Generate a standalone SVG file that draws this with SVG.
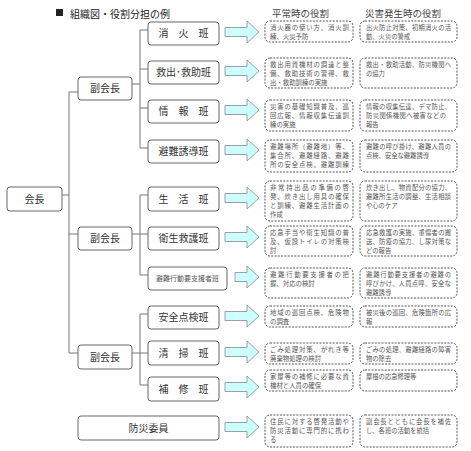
<svg xmlns="http://www.w3.org/2000/svg" xmlns:xlink="http://www.w3.org/1999/xlink" width="471" height="451" viewBox="0 0 471 451">
<style>
text{font-family:"Noto Sans CJK JP","Noto Sans",sans-serif}
.nb{fill:#fff;stroke:#666;stroke-width:1}
.nt{font-size:10px;fill:#333;text-anchor:middle}
.db{fill:#fff;stroke:#555;stroke-width:1;stroke-dasharray:2 1.3}
.tl{font-size:6.4px;fill:#555}
.tr{font-size:6.3px;fill:#555}
.ar{fill:#ccffff;stroke:#888;stroke-width:0.8}
.cn{fill:none;stroke:#777;stroke-width:1}
.hd{font-size:9.5px;fill:#444}
</style>
<defs>
<path id="arr" class="ar" d="M0,-4.5 H22 V-11 L34,0 L22,11 V4.5 H0 Z"/>
<path id="arrs" class="ar" d="M0,-4.5 H12 V-11 L24,0 L12,11 V4.5 H0 Z"/>
</defs>
<rect width="471" height="451" fill="#fff"/>
<g id="title">
<rect x="56" y="9" width="7" height="7" fill="#222"/>
<text x="70" y="17.5" style="font-size:10px;fill:#222">組織図・役割分担の例</text>
<text class="hd" x="272" y="17">平常時の役割</text>
<text class="hd" x="365" y="17">災害発生時の役割</text>
</g>
<g id="connectors">
<path class="cn" d="M62,195 H69 M69,92 V353 M69,92 H78 M69,234 H78 M69,353 H78"/>
<path class="cn" d="M132,84 H140 M140,30 V148 M140,30 H148 M140,69 H148 M140,108 H148 M140,148 H148"/>
<path class="cn" d="M132,234 H148 M140,195 V275 M140,195 H148 M140,275 H148"/>
<path class="cn" d="M132,353 H148 M140,314 V385 M140,314 H148 M140,385 H148"/>
</g>
<g id="arrows">
<use xlink:href="#arr" x="225" y="32"/>
<use xlink:href="#arr" x="225" y="71"/>
<use xlink:href="#arr" x="225" y="110"/>
<use xlink:href="#arr" x="225" y="150"/>
<use xlink:href="#arr" x="225" y="198"/>
<use xlink:href="#arr" x="225" y="237"/>
<use xlink:href="#arrs" x="235" y="277"/>
<use xlink:href="#arr" x="225" y="316"/>
<use xlink:href="#arr" x="225" y="352"/>
<use xlink:href="#arr" x="225" y="387"/>
<use xlink:href="#arr" x="225" y="427"/>
</g>
<g id="kaicho"><rect class="nb" x="7" y="187" width="55" height="24" rx="3"/><text class="nt" x="34.5" y="202.5">会長</text></g>
<g id="fuku1"><rect class="nb" x="78" y="77" width="54" height="23" rx="3"/><text class="nt" x="105" y="92">副会長</text></g>
<g id="fuku2"><rect class="nb" x="78" y="227" width="54" height="23" rx="3"/><text class="nt" x="105" y="242">副会長</text></g>
<g id="fuku3"><rect class="nb" x="78" y="345" width="54" height="24" rx="3"/><text class="nt" x="105" y="360.5">副会長</text></g>
<g id="shoka"><rect class="nb" x="148" y="22" width="71" height="23" rx="3"/><text class="nt" x="183.5" y="37">消　火　班</text></g>
<g id="kyushutsu"><rect class="nb" x="148" y="61" width="71" height="23" rx="3"/><text class="nt" x="183.5" y="76">救出･救助班</text></g>
<g id="joho"><rect class="nb" x="148" y="100" width="71" height="23" rx="3"/><text class="nt" x="183.5" y="115">情　報　班</text></g>
<g id="hinan"><rect class="nb" x="148" y="140" width="71" height="23" rx="3"/><text class="nt" x="183.5" y="155">避難誘導班</text></g>
<g id="seikatsu"><rect class="nb" x="148" y="187" width="71" height="24" rx="3"/><text class="nt" x="183.5" y="202.5">生　活　班</text></g>
<g id="eisei"><rect class="nb" x="148" y="227" width="71" height="23" rx="3"/><text class="nt" x="183.5" y="242">衛生救護班</text></g>
<g id="yoshien"><rect class="nb" x="148" y="267" width="79" height="23" rx="3"/><text class="nt" x="187.5" y="281" style="font-size:7px;fill:#555">避難行動要支援者班</text></g>
<g id="anzen"><rect class="nb" x="148" y="306" width="71" height="23" rx="3"/><text class="nt" x="183.5" y="321">安全点検班</text></g>
<g id="seiso"><rect class="nb" x="148" y="341" width="71" height="24" rx="3"/><text class="nt" x="183.5" y="356.5">清　掃　班</text></g>
<g id="hoshu"><rect class="nb" x="148" y="377" width="71" height="24" rx="3"/><text class="nt" x="183.5" y="392.5">補　修　班</text></g>
<g id="bosai"><rect class="nb" x="78" y="416" width="141" height="24" rx="3"/><text class="nt" x="148.5" y="431.5">防災委員</text></g>
<g id="roles">
<rect class="db" x="265" y="21" width="88" height="21" rx="5"/>
<text class="tl" x="270" y="29.5"><tspan textLength="79" lengthAdjust="spacing">消火器の使い方、消火訓</tspan><tspan x="270" dy="9.3">練、火災予防</tspan></text>
<rect class="db" x="360" y="21" width="97" height="21" rx="5"/>
<text class="tr" x="366" y="29.5"><tspan textLength="85" lengthAdjust="spacing">出火防止対策、初期消火の活</tspan><tspan x="366" dy="9.3">動、火災の警戒</tspan></text>

<rect class="db" x="265" y="58" width="88" height="30" rx="5"/>
<text class="tl" x="270" y="66.5"><tspan textLength="79" lengthAdjust="spacing">救出用資機材の調達と整</tspan><tspan x="270" dy="9.3" textLength="79" lengthAdjust="spacing">備、救助技術の習得、救</tspan><tspan x="270" dy="9.3">出・救助訓練の実施</tspan></text>
<rect class="db" x="360" y="58" width="97" height="30" rx="5"/>
<text class="tr" x="366" y="66.5"><tspan textLength="85" lengthAdjust="spacing">救出・救助活動、防災機関へ</tspan><tspan x="366" dy="9.3">の協力</tspan></text>

<rect class="db" x="265" y="100" width="88" height="31" rx="5"/>
<text class="tl" x="270" y="108.5"><tspan textLength="79" lengthAdjust="spacing">災害の基礎知識普及、巡</tspan><tspan x="270" dy="9.3" textLength="79" lengthAdjust="spacing">回広報、情報収集伝達訓</tspan><tspan x="270" dy="9.3">練の実施</tspan></text>
<rect class="db" x="360" y="100" width="97" height="31" rx="5"/>
<text class="tr" x="366" y="108.5"><tspan textLength="85" lengthAdjust="spacing">情報の収集伝達、デマ防止、</tspan><tspan x="366" dy="9.3" textLength="80" lengthAdjust="spacing">防災関係機関へ被害などの</tspan><tspan x="366" dy="9.3">報告</tspan></text>

<rect class="db" x="265" y="140" width="88" height="32" rx="5"/>
<text class="tl" x="270" y="148.5"><tspan textLength="79" lengthAdjust="spacing">避難場所（避難地）等、</tspan><tspan x="270" dy="9.3" textLength="79" lengthAdjust="spacing">集合所、避難経路、避難</tspan><tspan x="270" dy="9.3" textLength="79" lengthAdjust="spacing">所の安全点検、避難訓練</tspan></text>
<rect class="db" x="360" y="140" width="97" height="32" rx="5"/>
<text class="tr" x="366" y="148.5"><tspan textLength="85" lengthAdjust="spacing">避難の呼び掛け、避難人員の</tspan><tspan x="366" dy="9.3">点検、安全な避難誘導</tspan></text>

<rect class="db" x="265" y="181" width="88" height="40" rx="5"/>
<text class="tl" x="270" y="189.5"><tspan textLength="79" lengthAdjust="spacing">非常持出品の準備の啓</tspan><tspan x="270" dy="9.3" textLength="79" lengthAdjust="spacing">発、炊き出し用具の確保</tspan><tspan x="270" dy="9.3" textLength="79" lengthAdjust="spacing">と訓練、避難生活計画の</tspan><tspan x="270" dy="9.3">作成</tspan></text>
<rect class="db" x="360" y="181" width="97" height="40" rx="5"/>
<text class="tr" x="366" y="189.5"><tspan textLength="85" lengthAdjust="spacing">炊き出し、物資配分の協力、</tspan><tspan x="366" dy="9.3" textLength="85" lengthAdjust="spacing">避難所生活の調整、生活相談</tspan><tspan x="366" dy="9.3">や心のケア</tspan></text>

<rect class="db" x="265" y="226" width="88" height="30" rx="5"/>
<text class="tl" x="270" y="234.5"><tspan textLength="79" lengthAdjust="spacing">応急手当や衛生知識の普</tspan><tspan x="270" dy="9.3" textLength="79" lengthAdjust="spacing">及、仮設トイレの対策検</tspan><tspan x="270" dy="9.3">討</tspan></text>
<rect class="db" x="360" y="226" width="97" height="30" rx="5"/>
<text class="tr" x="366" y="234.5"><tspan textLength="85" lengthAdjust="spacing">応急救護の実施、重傷者の搬</tspan><tspan x="366" dy="9.3" textLength="85" lengthAdjust="spacing">送、防疫の協力、し尿対策な</tspan><tspan x="366" dy="9.3">どの報告</tspan></text>

<rect class="db" x="265" y="268" width="88" height="30" rx="5"/>
<text class="tl" x="270" y="276.5"><tspan textLength="79" lengthAdjust="spacing">避難行動要支援者の把</tspan><tspan x="270" dy="9.3">握、対応の検討</tspan></text>
<rect class="db" x="360" y="268" width="97" height="30" rx="5"/>
<text class="tr" x="366" y="276.5"><tspan textLength="85" lengthAdjust="spacing">避難行動要支援者の避難の</tspan><tspan x="366" dy="9.3" textLength="85" lengthAdjust="spacing">呼びかけ、人員点呼、安全な</tspan><tspan x="366" dy="9.3">避難誘導</tspan></text>

<rect class="db" x="265" y="306" width="88" height="21" rx="5"/>
<text class="tl" x="270" y="314.5"><tspan textLength="79" lengthAdjust="spacing">地域の巡回点検、危険物</tspan><tspan x="270" dy="9.3">の調査</tspan></text>
<rect class="db" x="360" y="306" width="97" height="21" rx="5"/>
<text class="tr" x="366" y="314.5"><tspan textLength="85" lengthAdjust="spacing">被災後の巡回、危険箇所の広</tspan><tspan x="366" dy="9.3">報</tspan></text>

<rect class="db" x="265" y="343" width="88" height="21" rx="5"/>
<text class="tl" x="270" y="351.5"><tspan textLength="79" lengthAdjust="spacing">ごみ処理対策、がれき等</tspan><tspan x="270" dy="9.3">廃棄物処理の検討</tspan></text>
<rect class="db" x="360" y="343" width="97" height="21" rx="5"/>
<text class="tr" x="366" y="351.5"><tspan textLength="85" lengthAdjust="spacing">ごみの処理、避難経路の障害</tspan><tspan x="366" dy="9.3">物の除去</tspan></text>

<rect class="db" x="265" y="370" width="88" height="21" rx="5"/>
<text class="tl" x="270" y="378.5"><tspan textLength="79" lengthAdjust="spacing">家屋等の補修に必要な資</tspan><tspan x="270" dy="9.3">機材と人員の確保</tspan></text>
<rect class="db" x="360" y="370" width="97" height="21" rx="5"/>
<text class="tr" x="366" y="378.5">屋根の応急修理等</text>

<rect class="db" x="265" y="415" width="88" height="32" rx="5"/>
<text class="tl" x="270" y="423.5"><tspan textLength="79" lengthAdjust="spacing">住民に対する啓発活動や</tspan><tspan x="270" dy="9.3" textLength="79" lengthAdjust="spacing">防災活動に専門的に携わ</tspan><tspan x="270" dy="9.3">る</tspan></text>
<rect class="db" x="360" y="415" width="97" height="32" rx="5"/>
<text class="tr" x="366" y="423.5"><tspan textLength="85" lengthAdjust="spacing">副会長とともに会長を補佐</tspan><tspan x="366" dy="9.3">し、各班の活動を統括</tspan></text>
</g>
</svg>
